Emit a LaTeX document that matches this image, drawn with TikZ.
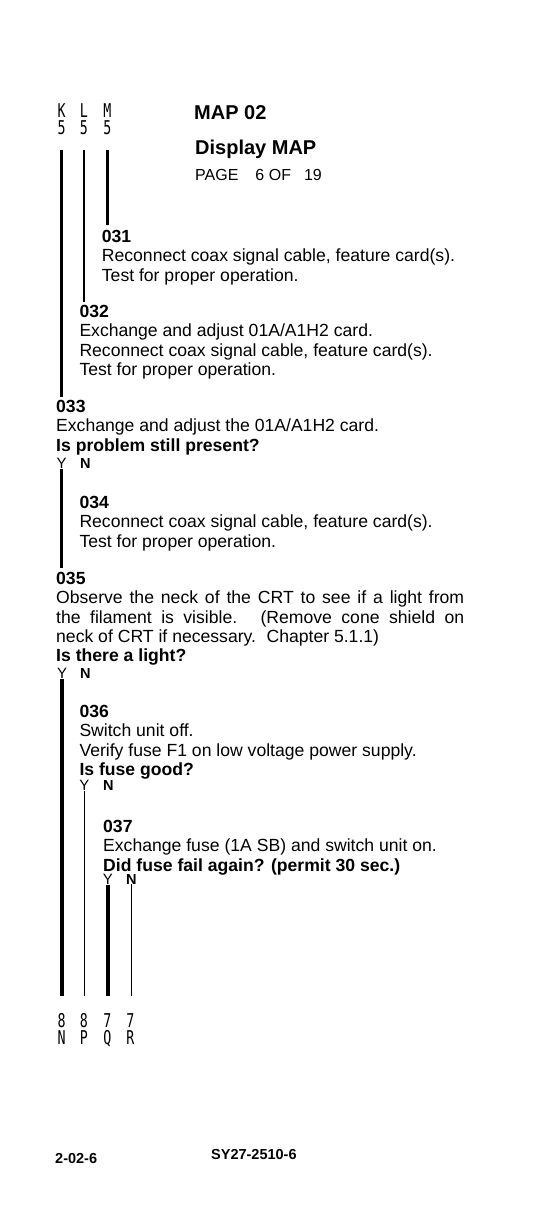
\documentclass[tikz,border=0pt]{standalone}
\usepackage{fontspec}
\setmainfont{Liberation Sans}
\newfontfamily\colfont{DejaVu Sans Mono}
\usepackage{graphicx}
\usetikzlibrary{positioning}
\newcommand{\colchar}[1]{\scalebox{0.7}[1]{#1}}
\tikzset{
  stepbox/.style={anchor=north west,inner sep=0pt,align=left,font=\fontsize{17.6}{19.3}\selectfont},
  titlebox/.style={anchor=north west,inner sep=0pt,font=\fontsize{20}{22}\selectfont\bfseries},
  pagebox/.style={anchor=north west,inner sep=0pt,font=\fontsize{16}{18}\selectfont},
  colbox/.style={anchor=north,inner sep=0pt,align=center,font=\fontsize{19}{17.5}\selectfont\colfont},
  yesbox/.style={anchor=north west,inner sep=0pt,font=\fontsize{15}{15}\selectfont},
  nobox/.style={anchor=north west,inner sep=0pt,font=\fontsize{14.5}{14}\selectfont\bfseries},
  footbox/.style={anchor=north west,inner sep=0pt,font=\fontsize{14.5}{16}\selectfont\bfseries},
  heavyline/.style={line width=3.2pt},
  lightline/.style={line width=1.4pt}
}

\begin{document}
\begin{tikzpicture}[x=1pt,y=-1pt]
  \fill[white] (0,0) rectangle (541,1224);

  % entry connectors
  \node[colbox] (colK) at (61.7,103) {\colchar{K}\\\colchar{5}};
  \node[colbox] (colL) at (84,103) {\colchar{L}\\\colchar{5}};
  \node[colbox] (colM) at (107.5,103) {\colchar{M}\\\colchar{5}};

  \node[titlebox] (map) at (194,105) {MAP 02};
  \node[titlebox] (disp) at (195,140) {Display MAP};
  \node[pagebox] (page) at (195,169) {PAGE\hspace{17pt}6 OF\hspace{13pt}19};

  \node[stepbox] (s031) at (101.7,230) {\textbf{031}\\Reconnect coax signal cable, feature card(s).\\Test for proper operation.};
  \node[stepbox] (s032) at (79.3,305) {\textbf{032}\\Exchange and adjust 01A/A1H2 card.\\Reconnect coax signal cable, feature card(s).\\Test for proper operation.};
  \node[stepbox] (s033) at (56,400) {\textbf{033}\\Exchange and adjust the 01A/A1H2 card.\\\textbf{Is problem still present?}};
  \node[yesbox] (y033) at (56.5,458) {Y};
  \node[nobox] (n033) at (80,458) {N};
  \node[stepbox] (s034) at (79.3,496) {\textbf{034}\\Reconnect coax signal cable, feature card(s).\\Test for proper operation.};
  \node[stepbox] (s035) at (56,572) {\textbf{035}\\
    \makebox[408pt][s]{Observe the neck of the CRT to see if a light from}\\
    \makebox[408pt][s]{the filament is visible.\hspace{3pt} (Remove cone shield on}\\
    neck of CRT if necessary.\hspace{4pt} Chapter 5.1.1)\\
    \textbf{Is there a light?}};
  \node[yesbox] (y035) at (56.8,668) {Y};
  \node[nobox] (n035) at (80,668) {N};
  \node[stepbox] (s036) at (79.3,705) {\textbf{036}\\Switch unit off.\\Verify fuse F1 on low voltage power supply.\\\textbf{Is fuse good?}};
  \node[yesbox] (y036) at (79.2,780) {Y};
  \node[nobox] (n036) at (103,780) {N};
  \node[stepbox] (s037) at (103,820) {\textbf{037}\\Exchange fuse (1A SB) and switch unit on.\\\textbf{Did fuse fail again? (permit 30 sec.)}};
  \node[yesbox] (y037) at (102.7,874) {Y};
  \node[nobox] (n037) at (126,874) {N};

  % exit connectors
  \node[colbox] (colN) at (61.7,1013) {\colchar{8}\\\colchar{N}};
  \node[colbox] (colP) at (84,1013) {\colchar{8}\\\colchar{P}};
  \node[colbox] (colQ) at (107.5,1013) {\colchar{7}\\\colchar{Q}};
  \node[colbox] (colR) at (130.5,1013) {\colchar{7}\\\colchar{R}};

  \node[footbox] (pgno) at (55,1153) {2-02-6};
  \node[footbox] (docno) at (211,1149) {SY27-2510-6};

  \draw[heavyline,shorten <=15pt,shorten >=3pt] (colK.south) -- (colK.south |- s033.north);
  \draw[lightline,shorten <=15pt,shorten >=3pt] (colL.south) -- (colL.south |- s032.north);
  \draw[heavyline,shorten <=15pt,shorten >=5pt] (colM.south) -- (colM.south |- s031.north);
  \draw[heavyline,shorten >=4pt] (y033.south) -- (y033.south |- s035.north);
  \draw[heavyline,shorten >=17pt] (y035.south) -- (y035.south |- colN.north);
  \draw[lightline,shorten >=17pt] (y036.south) -- (y036.south |- colP.north);
  \draw[heavyline,shorten >=17pt] (y037.south) -- (y037.south |- colQ.north);
  \draw[lightline,shorten >=17pt] (n037.south) -- (n037.south |- colR.north);
\end{tikzpicture}
\end{document}
